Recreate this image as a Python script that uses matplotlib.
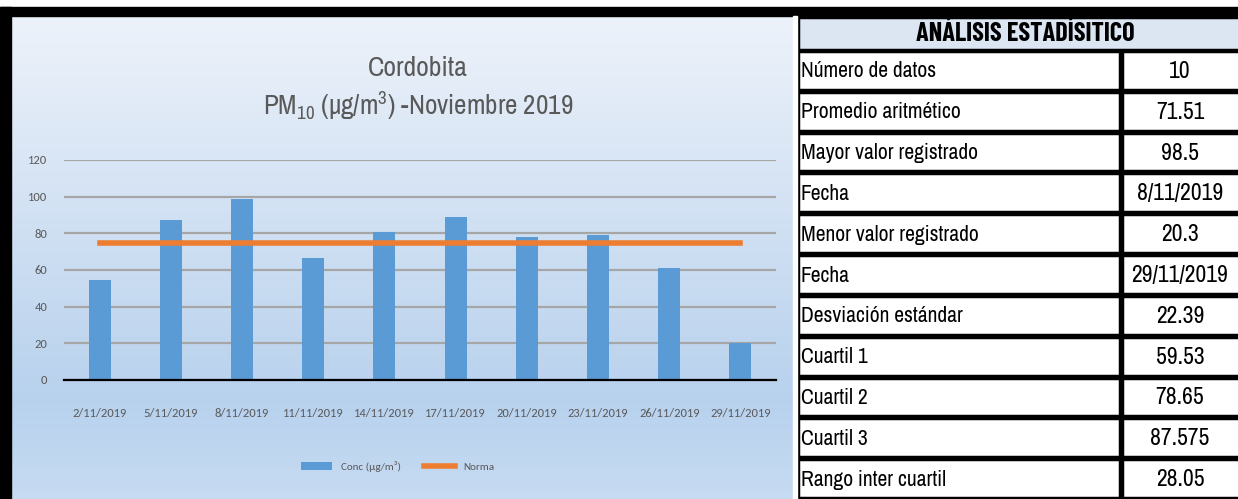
import numpy as np
import matplotlib.pyplot as plt
from matplotlib.patches import Rectangle

# data
fechas = ['2/11/2019', '5/11/2019', '8/11/2019', '11/11/2019', '14/11/2019',
          '17/11/2019', '20/11/2019', '23/11/2019', '26/11/2019', '29/11/2019']
conc = [54.4, 87.2, 98.5, 66.5, 81.0, 88.7, 78.2, 79.1, 61.2, 20.3]
norma = [75] * len(fechas)
yticks = [0, 20, 40, 60, 80, 100, 120]

tabla_titulo = 'ANÁLISIS ESTADÍSITICO'
tabla_nombres = ['Número de datos', 'Promedio aritmético', 'Mayor valor registrado', 'Fecha',
                 'Menor valor registrado', 'Fecha', 'Desviación estándar', 'Cuartil 1',
                 'Cuartil 2', 'Cuartil 3', 'Rango inter cuartil']
tabla_valores = ['10', '71.51', '98.5', '8/11/2019', '20.3', '29/11/2019', '22.39',
                 '59.53', '78.65', '87.575', '28.05']

W, H = 1238, 499
narrow = ['Archivo Narrow', 'DejaVu Sans']
ticks_font = ['Carlito', 'Archivo Narrow', 'DejaVu Sans']
plt.rcParams['font.family'] = narrow
plt.rcParams['mathtext.fontset'] = 'custom'
plt.rcParams['mathtext.rm'] = 'Archivo Narrow'
plt.rcParams['mathtext.it'] = 'Archivo Narrow'

def box(x0, y0, x1, y1):
    # pixel box (top-left origin) -> figure fraction rect
    return [x0 / W, 1 - y1 / H, (x1 - x0) / W, (y1 - y0) / H]

fig = plt.figure(figsize=(W / 100, H / 100), dpi=100)
fig.patch.set_facecolor('white')

# chart panel with gradient
bg = fig.add_axes(box(12, 16, 794, 499))
grad = np.linspace(0, 1, 256)[:, None]
c_top = np.array([0.93, 0.95, 0.98])
c_mid = np.array([0.72, 0.82, 0.93])
c_bot = np.array([0.78, 0.86, 0.95])
cols = np.where(grad < 0.8, c_top + (c_mid - c_top) * (grad / 0.8),
                c_mid + (c_bot - c_mid) * ((grad - 0.8) / 0.2))
bg.imshow(cols[:, None, :], aspect='auto', extent=[0, 1, 0, 1])
bg.set_axis_off()

# black frame
fig.add_artist(Rectangle((0, 1 - 16 / H), 1, 9 / H, transform=fig.transFigure, color='black'))
fig.add_artist(Rectangle((0, 0), 11 / W, 1 - 7 / H, transform=fig.transFigure, color='black'))
fig.add_artist(Rectangle((793 / W, 0), 4 / W, 1 - 16 / H, transform=fig.transFigure, color='white'))

# titles
fig.text(418 / W, 1 - 68 / H, 'Cordobita', ha='center', va='center', fontsize=20, color='#595959')
fig.text(418 / W, 1 - 106 / H, r'PM$_{10}$ (µg/m$^{3}$) -Noviembre 2019', ha='center', va='center',
         fontsize=19.5, color='#595959')

# chart
ax = fig.add_axes(box(64, 160, 776, 380))
ax.set_facecolor('none')
x = np.arange(len(fechas))
barras = ax.bar(x, conc, width=0.31, color='#5b9bd5', zorder=2)
linea, = ax.plot(x, norma, color='#ed7d31', lw=4, zorder=3)
ax.set_xlim(-0.5, len(fechas) - 0.5)
ax.set_ylim(0, 120)
ax.set_yticks(yticks)
ax.yaxis.grid(True, color='#a6a6a6', lw=1.6, zorder=1)
ax.set_axisbelow(True)
for s in ['top', 'right', 'left']:
    ax.spines[s].set_visible(False)
ax.spines['bottom'].set_color('black')
ax.spines['bottom'].set_linewidth(1.6)
ax.set_xticks(x)
ax.set_xticklabels(fechas)
ax.tick_params(axis='both', length=0, labelsize=9, labelcolor='#595959')
ax.tick_params(axis='x', pad=20)
ax.tick_params(axis='y', pad=12)
for t in ax.get_xticklabels() + ax.get_yticklabels():
    t.set_family(ticks_font)
leg = ax.legend([barras, linea], ['Conc (µg/m³)', 'Norma'], loc='center',
                bbox_to_anchor=(398 / W, 1 - 466 / H), bbox_transform=fig.transFigure,
                ncol=2, frameon=False, handlelength=2.8, columnspacing=2.0,
                prop={'family': ticks_font, 'size': 8})
for t in leg.get_texts():
    t.set_color('#595959')

# stats table, pixel coordinates
tb = fig.add_axes(box(797, 16, W, H))
tb.set_xlim(797, W)
tb.set_ylim(H, 16)
tb.set_axis_off()
tb.add_patch(Rectangle((798, 17), 450, 33, facecolor='#dce6f2', edgecolor='black', lw=2.5))
tb.text(1025, 34, tabla_titulo, ha='center', va='center', fontsize=19, fontweight='bold',
        family=['Barlow Condensed', 'DejaVu Sans'])
row_h = (H - 50) / len(tabla_nombres)
for i, (nom, val) in enumerate(zip(tabla_nombres, tabla_valores)):
    y0 = 50 + i * row_h
    tb.add_patch(Rectangle((798, y0 + 1), 322, row_h - 2, facecolor='white', edgecolor='black', lw=2.5))
    tb.add_patch(Rectangle((1122, y0 + 1), 130, row_h - 2, facecolor='white', edgecolor='black', lw=2.5))
    tb.text(801, y0 + row_h / 2 + 1, nom, ha='left', va='center', fontsize=15.5)
    tb.text(1180, y0 + row_h / 2 + 1, val, ha='center', va='center', fontsize=17)

fig.savefig('out.png', dpi=100)
